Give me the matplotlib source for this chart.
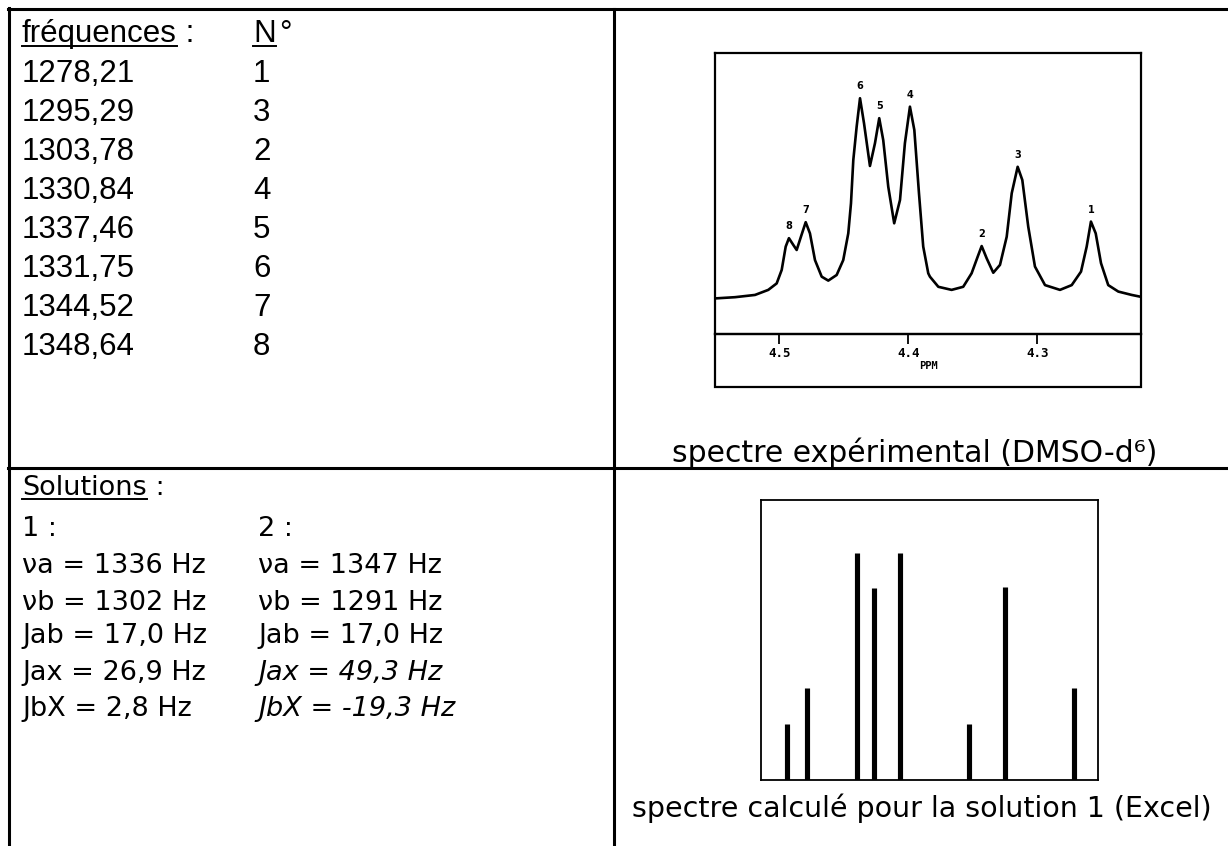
import matplotlib
matplotlib.use("Agg")
import matplotlib.pyplot as plt
from matplotlib.lines import Line2D
from matplotlib.patches import Rectangle

# table contents
freq_labels = ["1278,21", "1295,29", "1303,78", "1330,84",
               "1337,46", "1331,75", "1344,52", "1348,64"]
line_numbers = ["1", "3", "2", "4", "5", "6", "7", "8"]

sol1 = ["\u03bda = 1336 Hz", "\u03bdb = 1302 Hz", "Jab = 17,0 Hz",
        "Jax = 26,9 Hz", "JbX = 2,8 Hz"]
sol2 = ["\u03bda = 1347 Hz", "\u03bdb = 1291 Hz", "Jab = 17,0 Hz",
        "Jax = 49,3 Hz", "JbX = -19,3 Hz"]
sol2_italic = [False, False, False, True, True]

curve_ppm = [4.5485, 4.5343, 4.5188, 4.5085, 4.5020, 4.4981, 4.4950, 4.4925,
             4.4891, 4.4865, 4.4832, 4.4795, 4.4762, 4.4723, 4.4671, 4.4620,
             4.4555, 4.4504, 4.4465, 4.4444, 4.4426, 4.4400, 4.4374, 4.4343,
             4.4297, 4.4258, 4.4225, 4.4194, 4.4155, 4.4109, 4.4064, 4.4026,
             4.3987, 4.3953, 4.3917, 4.3884, 4.3845, 4.3832, 4.3767, 4.3664,
             4.3574, 4.3509, 4.3462, 4.3431, 4.3392, 4.3341, 4.3289, 4.3237,
             4.3198, 4.3152, 4.3116, 4.3070, 4.3018, 4.2940, 4.2824, 4.2733,
             4.2661, 4.2617, 4.2584, 4.2547, 4.2506, 4.2450, 4.2372, 4.2268,
             4.2204]
curve_int = [12.7, 13.1, 13.9, 15.7, 18.0, 22.8, 31.1, 34.1,
             31.7, 29.9, 34.6, 39.8, 35.8, 26.3, 20.4, 19.0,
             21.0, 26.3, 35.8, 46.5, 61.9, 73.8, 83.9, 75.0,
             59.8, 67.9, 76.8, 69.0, 52.4, 39.4, 47.7, 67.9,
             80.9, 72.6, 50.1, 31.1, 21.6, 20.4, 16.8, 15.7,
             16.8, 21.6, 27.5, 31.3, 26.9, 21.8, 24.6, 34.6,
             50.1, 59.5, 54.8, 38.2, 24.0, 17.4, 15.7, 17.4,
             22.2, 31.1, 40.0, 35.8, 25.2, 17.4, 15.1, 13.9,
             13.3]

peak_labels = ["8", "7", "6", "5", "4", "2", "3", "1"]
peak_ppm = [4.4925, 4.4795, 4.4374, 4.4225, 4.3987, 4.3431, 4.3152, 4.2584]
peak_int = [34.1, 39.8, 83.9, 76.8, 80.9, 31.3, 59.5, 40.0]
ppm_ticks = [4.5, 4.4, 4.3]

# calculated stick spectrum (Hz, relative intensity)
stick_hz = [1348.6, 1343.7, 1331.5, 1327.3, 1320.9, 1304.0, 1295.2, 1278.2]
stick_int = [0.56, 0.92, 2.27, 1.92, 2.27, 0.56, 1.93, 0.92]

W, H = 1228, 846


def fx(x):
    return x / W


def fy(y):
    return 1 - y / H


fig = plt.figure(figsize=(W / 100, H / 100), dpi=100, facecolor='white')

# table grid
for (x0, y0, x1, y1) in [(8, 9, 1228, 9), (9, 8, 9, 846), (614, 9, 614, 846),
                         (8, 468, 1228, 468)]:
    fig.add_artist(Line2D([fx(x0), fx(x1)], [fy(y0), fy(y1)],
                          transform=fig.transFigure, color='black', lw=2.2))

top_font = dict(family='Liberation Sans', fontsize=22.5, va='baseline')
bot_font = dict(family='DejaVu Sans', fontsize=19.5, va='baseline')

r = fig.canvas.get_renderer()


def text_right(t):
    fig.canvas.draw()
    return t.get_window_extent(r).x1 / W


underlined = []
t = fig.text(fx(22), fy(42), "fréquences", **top_font)
underlined.append(t)
fig.text(text_right(t), fy(42), " :", **top_font)
t = fig.text(fx(253), fy(42), "N", **top_font)
underlined.append(t)
fig.text(text_right(t) + 0.003, fy(42), "°", **top_font)

for i, (f, n) in enumerate(zip(freq_labels, line_numbers)):
    yb = 82 + 39.0 * i
    fig.text(fx(22), fy(yb), f, **top_font)
    fig.text(fx(253), fy(yb), n, **top_font)

t = fig.text(fx(22), fy(495), "Solutions", **bot_font)
underlined.append(t)
fig.text(text_right(t), fy(495), " :", **bot_font)
fig.text(fx(22), fy(536), "1 :", **bot_font)
fig.text(fx(258), fy(536), "2 :", **bot_font)
sol_base = [573, 610, 643, 680, 716]
for yb, a, b, it in zip(sol_base, sol1, sol2, sol2_italic):
    fig.text(fx(22), fy(yb), a, **bot_font)
    fig.text(fx(258), fy(yb), b, style='italic' if it else 'normal', **bot_font)

fig.canvas.draw()
for t in underlined:
    bb = t.get_window_extent(r)
    x, y = t.get_position()
    yl = y - 4 / H
    fig.add_artist(Line2D([bb.x0 / W, bb.x1 / W], [yl, yl],
                          transform=fig.transFigure, color='black', lw=1.4))

# experimental spectrum
ax1 = fig.add_axes([fx(715), fy(334), (1141 - 715) / W, (334 - 53) / H])
ax1.plot(curve_ppm, curve_int, color='black', lw=1.9, solid_joinstyle='round')
ax1.set_xlim(4.5498, 4.2196)
ax1.set_ylim(0, 100)
ax1.set_yticks([])
ax1.set_xticks(ppm_ticks)
ax1.set_xticklabels([f"{v:.1f}" for v in ppm_ticks], family='DejaVu Sans Mono',
                    fontsize=9, fontweight='bold')
ax1.tick_params(axis='x', direction='out', length=7, width=1.3, pad=2)
ax1.set_xlabel("PPM", family='DejaVu Sans Mono', fontsize=7.5, fontweight='bold',
               labelpad=1)
for s in ax1.spines.values():
    s.set_linewidth(1.6)
for lab, p, v in zip(peak_labels, peak_ppm, peak_int):
    ax1.annotate(lab, (p, v), xytext=(0, 5), textcoords='offset points',
                 ha='center', va='bottom', fontsize=7, fontweight='bold',
                 family='Liberation Sans Narrow')
fig.add_artist(Rectangle((fx(715), fy(387)), (1141 - 715) / W, (387 - 334) / H,
                         transform=fig.transFigure, fill=False, lw=1.6,
                         edgecolor='black'))

fig.text(fx(915), fy(462), "spectre expérimental (DMSO-d\u2076)",
         family='DejaVu Sans', fontsize=21.5, ha='center', va='baseline')

# calculated stick spectrum
ax2 = fig.add_axes([fx(761), fy(780), (1098 - 761) / W, (780 - 500) / H])
ax2.vlines(stick_hz, 0, stick_int, color='black', lw=3.7)
ax2.set_xlim(1355.0, 1272.3)
ax2.set_ylim(0, 2.8)
ax2.set_xticks([])
ax2.set_yticks([])
for s in ax2.spines.values():
    s.set_linewidth(1.3)

fig.text(fx(922), fy(817), "spectre calculé pour la solution 1 (Excel)",
         family='DejaVu Sans', fontsize=20.5, ha='center', va='baseline')

fig.savefig("out.png", dpi=100, facecolor='white')
